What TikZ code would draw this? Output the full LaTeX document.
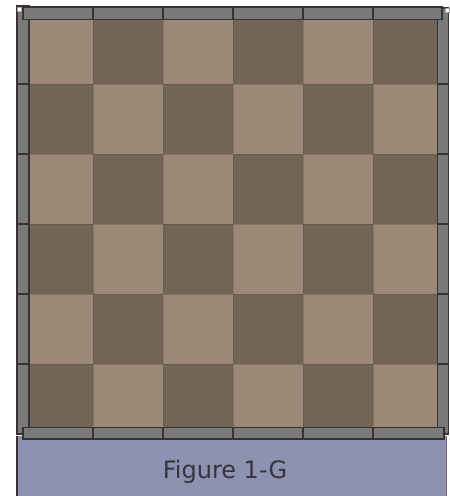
\documentclass[tikz,border=0pt]{standalone}
\usepackage{fontspec}
\newfontfamily\capfont{DejaVu Sans}
\definecolor{lightsq}{HTML}{9B8876}
\definecolor{darksq}{HTML}{736556}
\definecolor{bargray}{HTML}{7A7A7A}
\definecolor{barline}{HTML}{3A3232}
\definecolor{panelblue}{HTML}{8E92B2}
\definecolor{captext}{HTML}{34343C}
\begin{document}
\begin{tikzpicture}[x=1pt,y=-1pt,
  barseg/.style={fill=bargray,draw=barline,line width=1.8pt},
  sqlight/.style={fill=lightsq,draw=lightsq!85!black,line width=0.6pt},
  sqdark/.style={fill=darksq,draw=darksq!90!black,line width=0.6pt},
  corner/.style={fill=white,draw=gray!70,line width=0.5pt}]
\useasboundingbox (0,0) rectangle (450,496);
% caption panel
\fill[panelblue] (16,436) rectangle (447,496);
\draw[barline,line width=1.5pt] (17,436) -- (17,496);
\draw[barline!70,line width=1pt] (446.5,436) -- (446.5,496);
\node[font=\capfont\fontsize{24}{24}\selectfont,text=captext,anchor=base,inner sep=0pt] (cap) at (225,478) {Figure 1-G};
% board squares
\foreach \i in {0,...,5}{
  \foreach \j in {0,...,5}{
    \pgfmathtruncatemacro{\p}{mod(\i+\j,2)}
    \ifnum\p=0
      \path[sqlight] (23+70*\i,14+70*\j) rectangle (93+70*\i,84+70*\j);
    \else
      \path[sqdark] (23+70*\i,14+70*\j) rectangle (93+70*\i,84+70*\j);
    \fi
  }
}
% left bar
\foreach \a/\b in {6/84,84/154,154/224,224/294,294/364,364/434}{
  \path[barseg] (17,\a) rectangle (29,\b);
}
% right bar
\foreach \a/\b in {8/84,84/154,154/224,224/294,294/364,364/434}{
  \path[barseg] (437.5,\a) rectangle (448.5,\b);
}
% top bar
\foreach \a/\b in {23/93,93/163,163/233,233/303,303/373,373/442}{
  \path[barseg] (\a,7) rectangle (\b,19.5);
}
% bottom bar
\foreach \a/\b in {23/93,93/163,163/233,233/303,303/373,373/444}{
  \path[barseg] (\a,427.5) rectangle (\b,439);
}
% corner marks
\path[corner] (17.5,7.5) rectangle (21.5,11.5);
\path[corner] (445.5,8) rectangle (449.5,12);
\end{tikzpicture}
\end{document}
